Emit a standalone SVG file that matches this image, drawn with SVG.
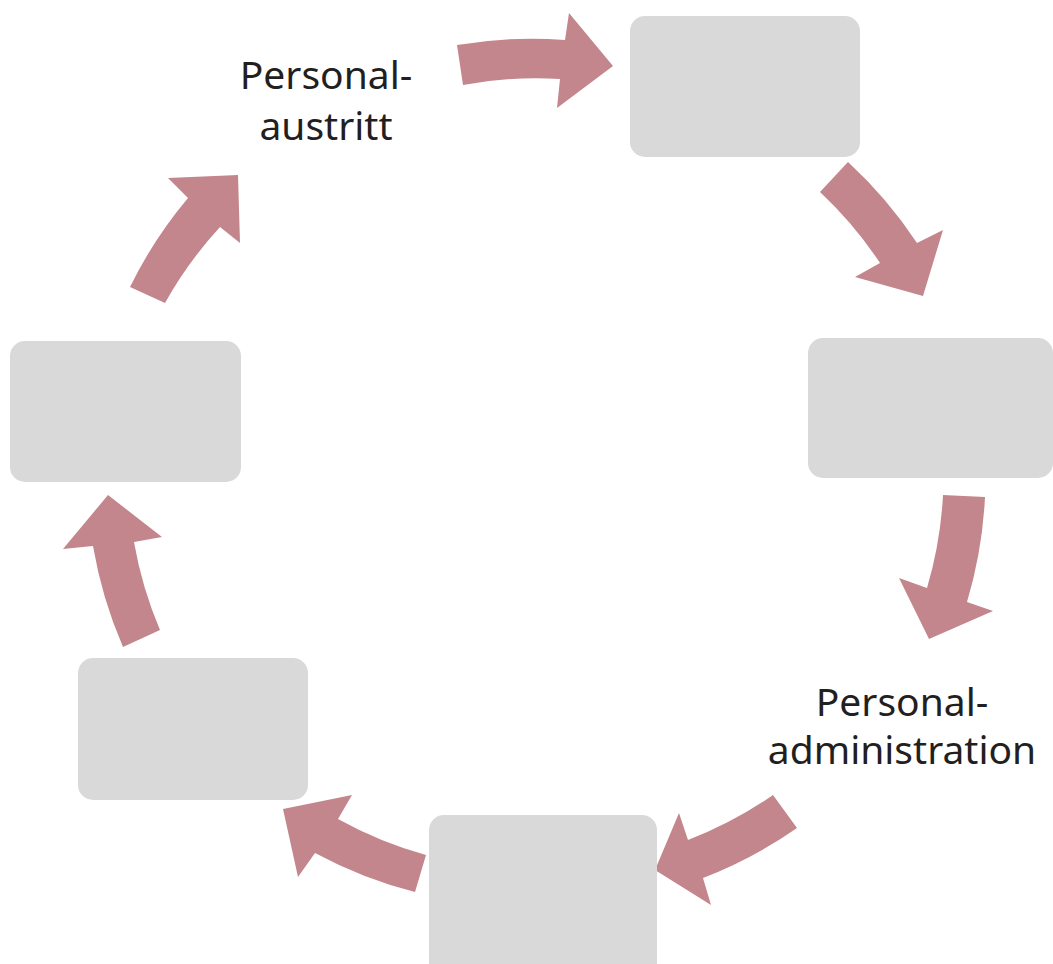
<svg xmlns="http://www.w3.org/2000/svg" width="1053" height="964" viewBox="0 0 1053 964">
<style>
.arrow{fill:#C3868C;stroke:none}
.box{fill:#D9D9D9;stroke:none}
.lbl{font-family:"Noto Sans","Liberation Sans",sans-serif;font-size:39px;fill:#231F20;text-anchor:middle}
</style>
<rect width="1053" height="964" fill="#FFFFFF"/>
<g id="connectors">
<path class="arrow" d="M457,45 A438,438 0 0 1 565,40 L569,13 L613,66 L557,108 L560,79 A400,400 0 0 0 463,85 Z"/>
<path class="arrow" d="M848,162 A438,438 0 0 1 917,243 L943,230 L923,296 L855,277 L880,263 A400,400 0 0 0 820,192 Z"/>
<path class="arrow" d="M985,497 A438,438 0 0 1 967,602 L993,611 L929,639 L899,578 L927,588 A400,400 0 0 0 943,495 Z"/>
<path class="arrow" d="M797,828 A438,438 0 0 1 703,878 L711,905 L655,870 L679,813 L688,840 A400,400 0 0 0 773,795 Z"/>
<path class="arrow" d="M415,892 A438,438 0 0 1 315,853 L298,877 L283,809 L352,795 L338,819 A400,400 0 0 0 426,855 Z"/>
<path class="arrow" d="M123,647 A438,438 0 0 1 93,546 L63,549 L108,495 L162,537 L134,542 A400,400 0 0 0 160,630 Z"/>
<path class="arrow" d="M130,287 A438,438 0 0 1 188,198 L168,178 L238,175 L240,243 L220,227 A400,400 0 0 0 165,303 Z"/>
</g>
<g id="node-top"><rect class="box" x="630" y="16" width="230" height="141" rx="15"/></g>
<g id="node-right"><rect class="box" x="808" y="338" width="245" height="140" rx="15"/></g>
<g id="node-bottom"><rect class="box" x="429" y="815" width="228" height="165" rx="15"/></g>
<g id="node-bottom-left"><rect class="box" x="78" y="658" width="230" height="142" rx="15"/></g>
<g id="node-left"><rect class="box" x="10" y="341" width="231" height="141" rx="15"/></g>
<g id="label-austritt">
<text class="lbl" x="326" y="89">Personal-</text>
<text class="lbl" x="326" y="140">austritt</text>
</g>
<g id="label-administration">
<text class="lbl" x="902" y="716">Personal-</text>
<text class="lbl" x="902" y="764">administration</text>
</g>
</svg>
